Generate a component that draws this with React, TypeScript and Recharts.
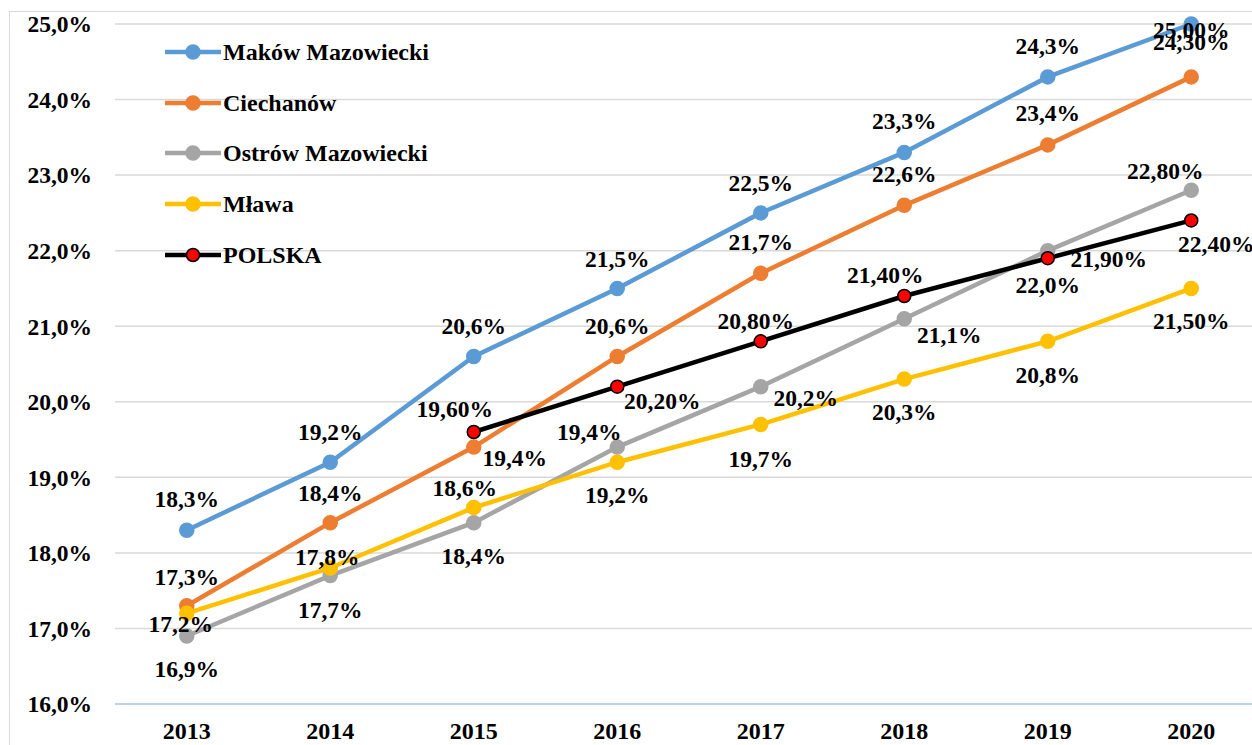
import React from 'react';
import { LineChart, Line, XAxis, YAxis, CartesianGrid, LabelList, Legend } from 'recharts';

const YEARS = ['2013', '2014', '2015', '2016', '2017', '2018', '2019', '2020'];
const MAKOW = [18.3, 19.2, 20.6, 21.5, 22.5, 23.3, 24.3, 25.0];
const CIECHANOW = [17.3, 18.4, 19.4, 20.6, 21.7, 22.6, 23.4, 24.3];
const OSTROW = [16.9, 17.7, 18.4, 19.4, 20.2, 21.1, 22.0, 22.8];
const MLAWA = [17.2, 17.8, 18.6, 19.2, 19.7, 20.3, 20.8, 21.5];
const POLSKA = [null, null, 19.6, 20.2, 20.8, 21.4, 21.9, 22.4];
const Y_TICKS = [16, 17, 18, 19, 20, 21, 22, 23, 24, 25];

type Series = { key: string; name: string; values: (number | null)[]; color: string; marker: string; markerStroke: string };

const SERIES: Series[] = [
  { key: 'makow', name: 'Maków Mazowiecki', values: MAKOW, color: '#5B9BD5', marker: '#5B9BD5', markerStroke: '#5B9BD5' },
  { key: 'ciechanow', name: 'Ciechanów', values: CIECHANOW, color: '#ED7D31', marker: '#ED7D31', markerStroke: '#ED7D31' },
  { key: 'ostrow', name: 'Ostrów Mazowiecki', values: OSTROW, color: '#A5A5A5', marker: '#A5A5A5', markerStroke: '#A5A5A5' },
  { key: 'mlawa', name: 'Mława', values: MLAWA, color: '#FFC000', marker: '#FFC000', markerStroke: '#FFC000' },
  { key: 'polska', name: 'POLSKA', values: POLSKA, color: '#000000', marker: '#FF0000', markerStroke: '#000000' },
];

// label placement (offset of label centre from its point), layout only
const LABEL_OFFSETS: Record<string, ([number, number] | null)[]> = {
  makow: [[0, -31], [0, -30], [0, -30], [0, -29], [0, -30], [0, -31], [0, -31], [0, 6]],
  ciechanow: [[0, -29], [0, -30], [41, 11], [0, -30], [0, -31], [0, -31], [0, -32], [0, -35]],
  ostrow: [[0, 33], [0, 34], [0, 33], [-28, -15], [45, 11], [45, 16], [0, 34], [-26, -19]],
  mlawa: [[-6, 11], [-3, -11], [-9, -20], [0, 33], [0, 35], [0, 33], [0, 34], [0, 33]],
  polska: [null, null, [-19, -23], [45, 14], [-5, -20], [-19, -21], [61, 1], [25, 24]],
};

const data = YEARS.map((year, i) => {
  const row: Record<string, any> = { year };
  SERIES.forEach((s) => {
    row[s.key] = s.values[i];
  });
  return row;
});

const FONT = "'Liberation Serif', 'Times New Roman', serif";

const fmt = (v: number, d: number) => v.toFixed(d).replace('.', ',') + '%';

const makeLabel = (key: string) => (props: any) => {
  const { x, y, value, index } = props;
  if (value === null || value === undefined || x == null || y == null) return null;
  const off = LABEL_OFFSETS[key][index] || [0, -31];
  const decimals = key === 'polska' || index === YEARS.length - 1 ? 2 : 1;
  return (
    <text
      x={Number(x) + off[0]}
      y={Number(y) + off[1] + 8}
      textAnchor="middle"
      fontFamily={FONT}
      fontWeight="bold"
      fontSize={23.5}
      fill="#000"
    >
      {fmt(Number(value), decimals)}
    </text>
  );
};

const renderLegend = () => (
  <div style={{ fontFamily: FONT, fontWeight: 'bold', fontSize: 24, color: '#000' }}>
    {SERIES.map((s) => (
      <div key={s.key} style={{ height: 50.75, display: 'flex', alignItems: 'center', whiteSpace: 'nowrap' }}>
        <svg width={56} height={18} style={{ display: 'block' }}>
          <line x1={0} y1={9} x2={56} y2={9} stroke={s.color} strokeWidth={4.5} />
          <circle cx={28} cy={9} r={s.key === 'polska' ? 6.5 : 7} fill={s.marker} stroke={s.markerStroke} strokeWidth={1.5} />
        </svg>
        <span style={{ marginLeft: 2, lineHeight: '24px' }}>{s.name}</span>
      </div>
    ))}
  </div>
);

export default function App() {
  return (
    <div style={{ position: 'absolute', left: 0, top: 0, width: 1252, height: 745, overflow: 'hidden', background: '#fff' }}>
      <div
        style={{
          position: 'absolute',
          left: 9,
          top: 11,
          width: 1400,
          height: 900,
          borderTop: '1.5px solid #D9D9D9',
          borderLeft: '1.5px solid #D9D9D9',
        }}
      />
      <div style={{ position: 'absolute', left: 0, top: 0 }}>
        <LineChart width={1270} height={760} data={data} margin={{ top: 24, right: 7, left: 0, bottom: 0 }}>
          <CartesianGrid vertical={false} stroke="#D9D9D9" strokeWidth={1.5} />
          <XAxis
            dataKey="year"
            height={56}
            padding={{ left: 71.75, right: 71.75 }}
            axisLine={{ stroke: '#A9CCEC', strokeWidth: 1.5 }}
            tickLine={false}
            tickSize={0}
            tickMargin={18}
            tick={{ fill: '#000', fontSize: 24, fontWeight: 'bold', fontFamily: FONT }}
          />
          <YAxis
            domain={[16, 25]}
            ticks={Y_TICKS}
            interval={0}
            width={115}
            axisLine={false}
            tickLine={false}
            tickSize={0}
            tickMargin={23}
            tickFormatter={(v: number) => fmt(v, 1)}
            tick={{ fill: '#000', fontSize: 23.5, fontWeight: 'bold', fontFamily: FONT }}
          />
          <Legend
            layout="vertical"
            align="center"
            verticalAlign="middle"
            wrapperStyle={{ left: 165, top: 26.6, width: 320 }}
            content={renderLegend}
          />
          {SERIES.map((s) => (
            <Line
              key={s.key}
              dataKey={s.key}
              name={s.name}
              type="linear"
              stroke={s.color}
              strokeWidth={4.5}
              dot={{ r: s.key === 'polska' ? 6.5 : 7, fill: s.marker, stroke: s.markerStroke, strokeWidth: 1.5 }}
              activeDot={false}
              isAnimationActive={false}
            />
          ))}
          {SERIES.map((s) => (
            <Line
              key={s.key + '-labels'}
              dataKey={s.key}
              stroke="none"
              dot={false}
              activeDot={false}
              legendType="none"
              isAnimationActive={false}
            >
              <LabelList dataKey={s.key} content={makeLabel(s.key)} />
            </Line>
          ))}
        </LineChart>
      </div>
    </div>
  );
}
